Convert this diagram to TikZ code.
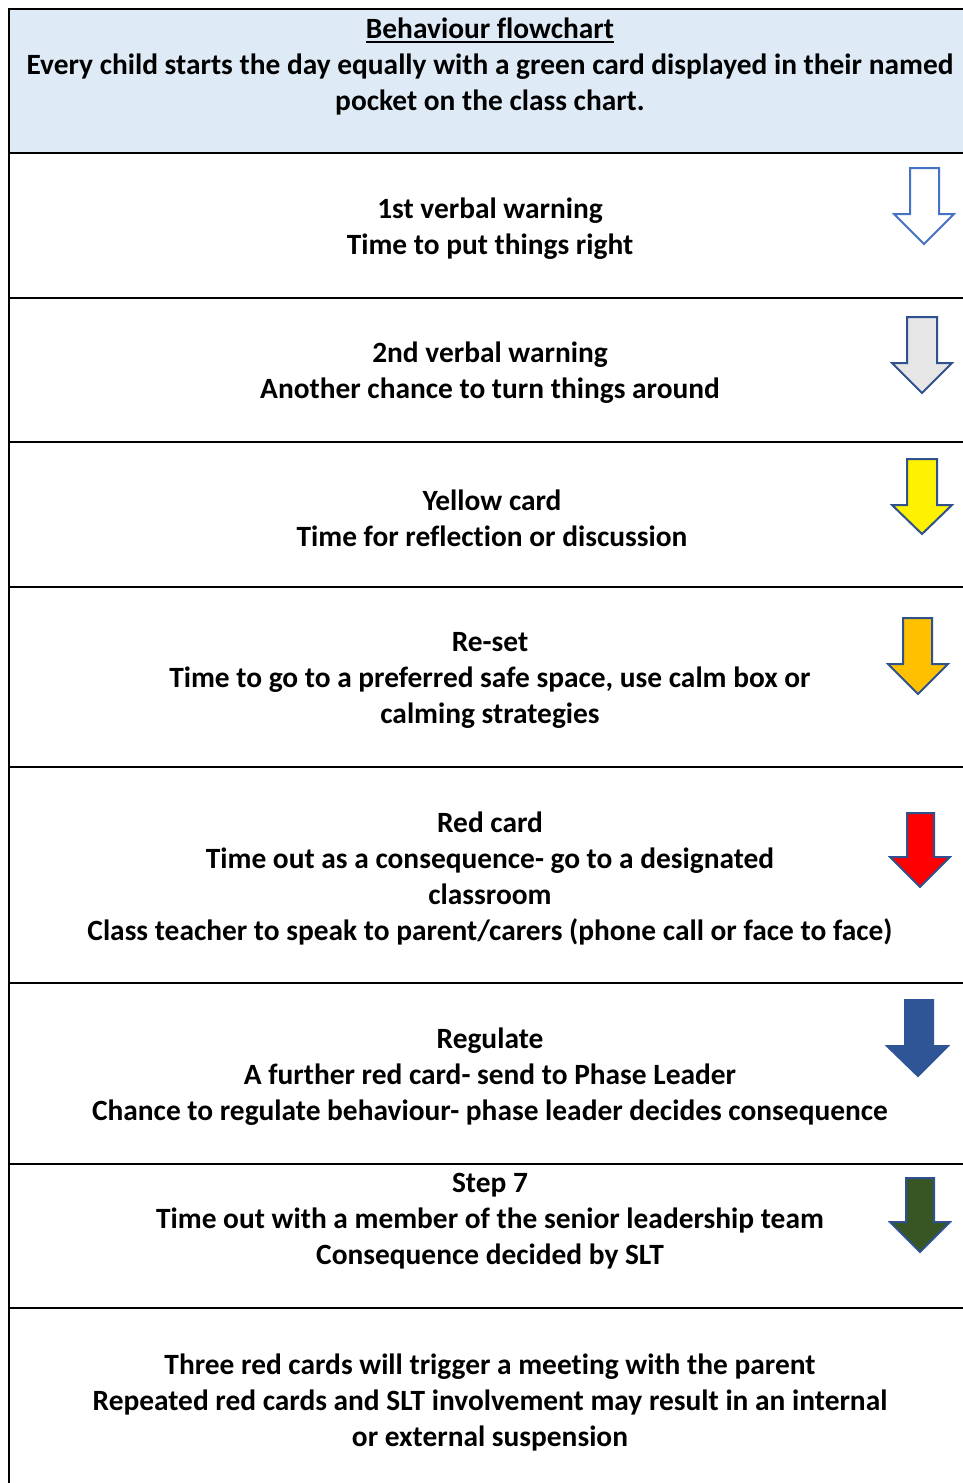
\documentclass[tikz,border=0pt]{standalone}
\usepackage{fontspec}
\setmainfont{Carlito}[Ligatures={NoCommon,NoRare,NoContextual}]
\definecolor{hdrblue}{HTML}{DEEBF7}
\definecolor{arrline}{HTML}{2F528F}
\definecolor{arrlight}{HTML}{4472C4}
\definecolor{greyfill}{HTML}{E7E6E6}
\definecolor{amber}{HTML}{FFC000}
\definecolor{darkblue}{HTML}{2F5597}
\definecolor{darkgreen}{HTML}{375623}
\newcommand\myul[1]{\vtop{\hbox{#1}\kern2.5pt\hrule height 2.2pt}}
\begin{document}
\begin{tikzpicture}[x=1pt,y=-1pt,
  rule/.style={line width=2pt,black},
  rowtext/.style={align=center,font=\fontsize{29.4}{36}\selectfont\bfseries,inner sep=0pt},
  arr/.style={line width=2pt,draw=arrline,line join=miter}]
\useasboundingbox (0,0) rectangle (963,1483);
\fill[white] (0,0) rectangle (963,1483);
\fill[hdrblue] (9,9) rectangle (963,153);
% frame
\draw[rule] (963,9) -- (9,9) -- (9,1483);
\foreach \yy in {153,298,442,587,767,983,1164,1308}
  \draw[rule] (9,\yy) -- (963,\yy);
% texts
\node[rowtext] (hdr) at (490,66) {\myul{Behaviour flowchart}\\Every child starts the day equally with a green card displayed in their named\\pocket on the class chart.};
\node[rowtext] (r1) at (490,228.5) {1st verbal warning\\Time to put things right};
\node[rowtext] (r2) at (490,373) {2nd verbal warning\\Another chance to turn things around};
\node[rowtext] (r3) at (492,518) {Yellow card\\Time for reflection or discussion};
\node[rowtext] (r4) at (490,680) {Re-set\\Time to go to a preferred safe space, use calm box or\\calming strategies};
\node[rowtext] (r5) at (490,878.5) {Red card\\Time out as a consequence- go to a designated\\classroom\\Class teacher to speak to parent/carers (phone call or face to face)};
\node[rowtext] (r6) at (490,1077) {Regulate\\A further red card- send to Phase Leader\\Chance to regulate behaviour- phase leader decides consequence};
\node[rowtext] (r7) at (490,1221.5) {Step 7\\Time out with a member of the senior leadership team\\Consequence decided by SLT};
\node[rowtext] (r8) at (490,1402) {Three red cards will trigger a meeting with the parent\\Repeated red cards and SLT involvement may result in an internal\\or external suspension};
% arrows
\draw[arr,draw=arrlight,fill=white] (910,168) -- (939,168) -- (939,214) -- (954,214) -- (924,244) -- (894,214) -- (910,214) -- cycle;
\draw[arr,fill=greyfill] (907,317) -- (937,317) -- (937,363) -- (952,363) -- (922,393) -- (892,363) -- (907,363) -- cycle;
\draw[arr,fill=yellow] (907,459) -- (937,459) -- (937,505) -- (952,505) -- (922,534) -- (892,505) -- (907,505) -- cycle;
\draw[arr,fill=amber] (903,618) -- (932,618) -- (932,664) -- (948,664) -- (918,694) -- (888,664) -- (903,664) -- cycle;
\draw[arr,fill=red] (907,813) -- (934,813) -- (934,857) -- (950,857) -- (920,887) -- (890,857) -- (907,857) -- cycle;
\draw[arr,fill=darkblue,draw=darkblue] (905,1000) -- (933,1000) -- (933,1046) -- (948,1046) -- (918,1076) -- (887,1046) -- (905,1046) -- cycle;
\draw[arr,fill=darkgreen] (906,1178) -- (934,1178) -- (934,1222) -- (950,1222) -- (920,1252) -- (890,1222) -- (906,1222) -- cycle;
\end{tikzpicture}
\end{document}
